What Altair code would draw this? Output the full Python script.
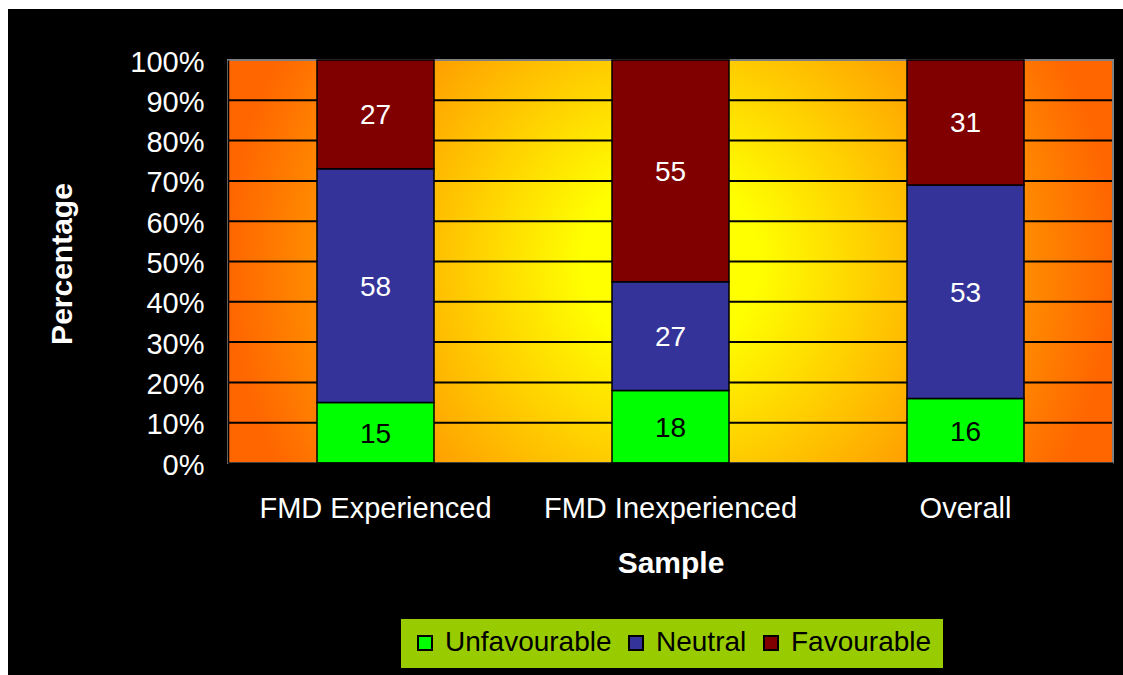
import altair as alt
import pandas as pd

# Attitude towards the scheme, by sample group (percent of respondents)
samples = ["FMD Experienced", "FMD Inexperienced", "Overall"]
unfavourable = [15, 18, 16]
neutral = [58, 27, 53]
favourable = [27, 55, 31]

series = ["Unfavourable", "Neutral", "Favourable"]
series_colors = ["#00FF00", "#333399", "#800000"]
y_ticks = [0, 0.1, 0.2, 0.3, 0.4, 0.5, 0.6, 0.7, 0.8, 0.9, 1.0]
grid_ticks = [0.1, 0.2, 0.3, 0.4, 0.5, 0.6, 0.7, 0.8, 0.9]

rows = []
for i, s in enumerate(samples):
    for k, vals in enumerate([unfavourable, neutral, favourable]):
        rows.append({"sample": s, "series": series[k], "value": vals[i], "rank": k})
df = pd.DataFrame(rows)

W, H = 885, 403
FONT = "Liberation Sans"
one = alt.Data(values=[{}])

# black chart area behind everything
backdrop = alt.Chart(one).mark_rect(fill="black", clip=False).encode(
    x=alt.value(-220), x2=alt.value(W + 10),
    y=alt.value(-51), y2=alt.value(H + 212),
)

# plot area with a yellow-to-orange glow from the centre
glow = alt.RadialGradient(
    gradient="radial",
    stops=[
        alt.GradientStop(color="#FFFF00", offset=0),
        alt.GradientStop(color="#FFFF00", offset=0.2),
        alt.GradientStop(color="#FF6600", offset=1),
    ],
    x1=0.5, y1=0.5, r1=0, x2=0.5, y2=0.5, r2=0.5,
)
panel = alt.Chart(one).mark_rect(fill=glow).encode(
    x=alt.value(0), x2=alt.value(W), y=alt.value(0), y2=alt.value(H)
)

frame = alt.Chart(one).mark_rect(fillOpacity=0, stroke="#808080", strokeWidth=2).encode(
    x=alt.value(0), x2=alt.value(W), y=alt.value(0), y2=alt.value(H)
)

grid = alt.Chart(pd.DataFrame({"t": grid_ticks})).mark_rule(
    color="black", strokeWidth=2
).encode(y=alt.Y("t:Q"))

x_enc = alt.X(
    "sample:N",
    sort=samples,
    axis=alt.Axis(
        title="Sample",
        labelAngle=0,
        labelColor="white",
        labelFont=FONT,
        labelFontSize=29,
        labelPadding=31,
        labelLimit=400,
        ticks=False,
        domainColor="black",
        domainWidth=2,
        titleColor="white",
        titleFont=FONT,
        titleFontSize=30,
        titleFontWeight="bold",
        titleY=100,
        titleBaseline="middle",
        zindex=1,
    ),
)

bars = alt.Chart(df).mark_bar(size=117, stroke="black", strokeWidth=1.5).encode(
    x=x_enc,
    y=alt.Y(
        "value:Q",
        stack="normalize",
        scale=alt.Scale(domain=[0, 1]),
        axis=alt.Axis(
            title="Percentage",
            values=y_ticks,
            format=".0%",
            grid=False,
            ticks=False,
            labelColor="white",
            labelFont=FONT,
            labelFontSize=29,
            labelPadding=24,
            labelOffset=2,
            domainColor="black",
            domainWidth=1.5,
            titleColor="white",
            titleFont=FONT,
            titleFontSize=30,
            titleFontWeight="bold",
            titleX=-166,
            titleY=H / 2 + 2,
            titleAngle=270,
            titleAlign="center",
            titleBaseline="middle",
            zindex=1,
        ),
    ),
    color=alt.Color(
        "series:N",
        sort=series,
        scale=alt.Scale(domain=series, range=series_colors),
        legend=alt.Legend(
            title=None,
            orient="none",
            legendX=172,
            legendY=558,
            direction="horizontal",
            fillColor="#99CC00",
            strokeColor="black",
            padding=11,
            symbolType="square",
            symbolSize=196,
            symbolStrokeColor="black",
            symbolStrokeWidth=2,
            labelFont=FONT,
            labelFontSize=28,
            labelColor="black",
            labelOffset=6,
            labelLimit=400,
            columnPadding=10,
        ),
    ),
    order=alt.Order("rank:Q"),
)

labels = (
    alt.Chart(df)
    .transform_stack(
        stack="value",
        groupby=["sample"],
        sort=[alt.SortField("rank")],
        as_=["lo", "hi"],
        offset="normalize",
    )
    .transform_calculate(mid="(datum.lo + datum.hi) / 2")
    .mark_text(font=FONT, fontSize=28, baseline="middle", dy=2)
    .encode(
        x=alt.X("sample:N", sort=samples),
        y=alt.Y("mid:Q"),
        text=alt.Text("value:Q"),
        color=alt.condition("datum.rank == 0", alt.value("black"), alt.value("white")),
    )
)

chart = (
    alt.layer(backdrop, panel, grid, frame, bars, labels)
    .properties(
        width=W,
        height=H,
        autosize="none",
        padding={"left": 228, "top": 60, "right": 10, "bottom": 212},
        background="white",
    )
    .configure_view(stroke=None)
)

chart.save("out.html", embed_options={"renderer": "svg", "actions": False})
